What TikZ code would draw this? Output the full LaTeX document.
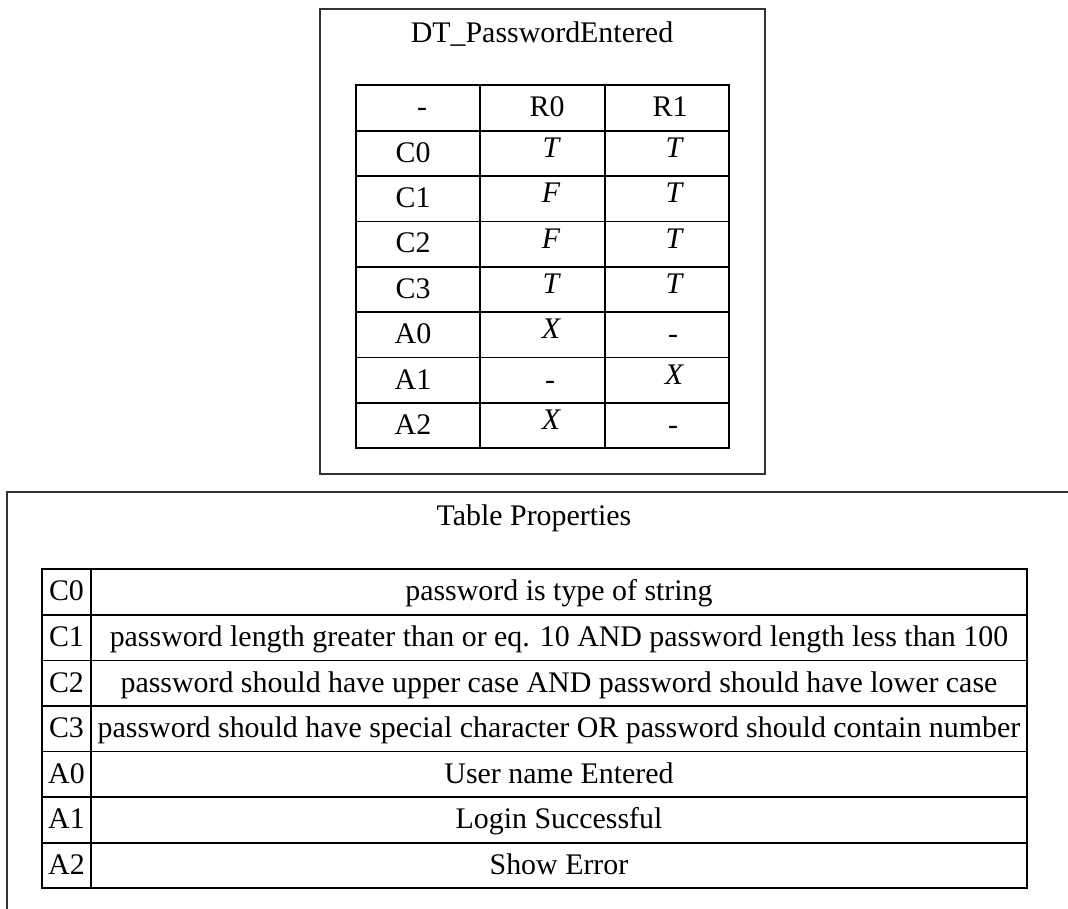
\documentclass[tikz,border=0pt]{standalone}
\usepackage{fontspec}
\setmainfont{Liberation Serif}
\begin{document}
\begin{tikzpicture}[x=1pt,y=-1pt,
  font=\fontsize{29.9}{36}\selectfont,
  frame/.style={draw=black!80, line width=1.9pt},
  gridline/.style={draw=black, line width=1.8pt},
  cell/.style={anchor=base, inner sep=0pt},
  val/.style={cell, font=\fontsize{29.9}{36}\selectfont\itshape}]
\clip (0,0) rectangle (1068,908);
\fill[white] (0,0) rectangle (1068,908);

% decision table panel
\draw[frame] (320,9) rectangle (765,474);
\node[cell] (dtitle) at (542,42) {DT\_PasswordEntered};

\def\ty{85.3}\def\th{45.375}
\draw[gridline] (356,\ty) rectangle (729,448.3);
\draw[gridline] (480,\ty) -- (480,448.3);
\draw[gridline] (605,\ty) -- (605,448.3);
\foreach \k in {1,...,7}{
  \draw[gridline] (356,\ty+\k*\th) -- (729,\ty+\k*\th);
}

% header row
\node[cell] (h0) at (422,\ty+0.5*\th+8.8) {-};
\node[cell] (h1) at (547,\ty+0.5*\th+8.8) {R0};
\node[cell] (h2) at (670,\ty+0.5*\th+8.8) {R1};

% rows: label, R0 entry, R1 entry
\foreach \lab/\a/\b [count=\i] in {C0/T/T, C1/F/T, C2/F/T, C3/T/T}{
  \node[cell] (l\i) at (413,\ty+\i*\th+0.5*\th+8.8) {\lab};
  \node[val] (a\i) at (551,\ty+\i*\th+0.5*\th+4) {\a};
  \node[val] (b\i) at (674,\ty+\i*\th+0.5*\th+4) {\b};
}
\node[cell] (l5) at (413,\ty+5*\th+0.5*\th+8.8) {A0};
\node[val]  (a5) at (551,\ty+5*\th+0.5*\th+4) {X};
\node[cell] (b5) at (673,\ty+5*\th+0.5*\th+8.8) {-};
\node[cell] (l6) at (413,\ty+6*\th+0.5*\th+8.8) {A1};
\node[cell] (a6) at (550,\ty+6*\th+0.5*\th+8.8) {-};
\node[val]  (b6) at (674,\ty+6*\th+0.5*\th+4) {X};
\node[cell] (l7) at (413,\ty+7*\th+0.5*\th+8.8) {A2};
\node[val]  (a7) at (551,\ty+7*\th+0.5*\th+4) {X};
\node[cell] (b7) at (673,\ty+7*\th+0.5*\th+8.8) {-};

% table properties panel (runs past the right and bottom edges)
\draw[frame] (7,492) rectangle (1100,940);
\node[cell] (ptitle) at (534,525) {Table Properties};

\def\py{569.3}\def\ph{45.57}
\draw[gridline] (42,\py) rectangle (1027,888.3);
\draw[gridline] (91,\py) -- (91,888.3);
\foreach \k in {1,...,6}{
  \draw[gridline] (42,\py+\k*\ph) -- (1027,\py+\k*\ph);
}
\foreach \lab/\txt [count=\i from 0] in {
  C0/password is type of string,
  C1/password length greater than or eq. 10 AND password length less than 100,
  C2/password should have upper case AND password should have lower case,
  C3/password should have special character OR password should contain number,
  A0/User name Entered,
  A1/Login Successful,
  A2/Show Error}{
  \node[cell] (pl\i) at (66.5,\py+\i*\ph+0.5*\ph+8.8) {\lab};
  \node[cell] (pd\i) at (559,\py+\i*\ph+0.5*\ph+8.8) {\txt};
}
\end{tikzpicture}
\end{document}
